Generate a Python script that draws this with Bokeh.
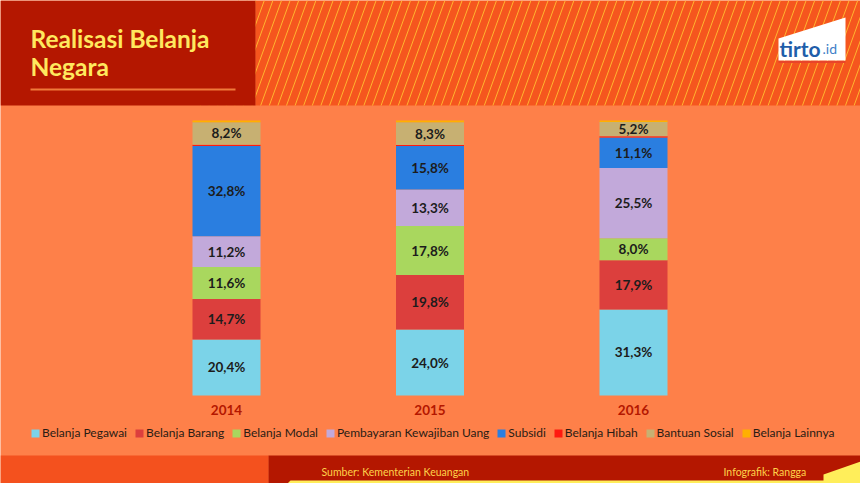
import numpy as np
from bokeh.plotting import figure
from bokeh.models import Range1d, Legend, LegendItem, ColumnDataSource
from bokeh.core.properties import value
from bokeh.embed import file_html
from bokeh.resources import INLINE

# ---------------- data ----------------
years = [2014, 2015, 2016]
year_labels = ["2014", "2015", "2016"]
categories = ["Belanja Pegawai", "Belanja Barang", "Belanja Modal",
              "Pembayaran Kewajiban Uang", "Subsidi", "Belanja Hibah",
              "Bantuan Sosial", "Belanja Lainnya"]
pegawai = [20.4, 24.0, 31.3]
barang = [14.7, 19.8, 17.9]
modal = [11.6, 17.8, 8.0]
pembayaran = [11.2, 13.3, 25.5]
subsidi = [32.8, 15.8, 11.1]
hibah = [0.5, 0.4, 0.5]
bantuan = [8.2, 8.3, 5.2]
lainnya = [0.6, 0.6, 0.5]
labelled = [True, True, True, True, True, False, True, False]
colors = ["#7BD3E8", "#DC3F3D", "#A9D75E", "#C2A9DA", "#2A7EE0",
          "#FF1A10", "#C7B072", "#FFB000"]
title_lines = ["Realisasi Belanja", "Negara"]
source_text = "Sumber: Kementerian Keuangan"
credit_text = "Infografik: Rangga"

series = [pegawai, barang, modal, pembayaran, subsidi, hibah, bantuan, lainnya]

W, H = 860, 483
BG = "#FE8049"
DARK_RED = "#B41700"
FONT = "Lato"

p = figure(width=W, height=H, output_backend="svg", toolbar_location=None,
           x_range=Range1d(0, W), y_range=Range1d(H, 0),
           x_axis_location=None, y_axis_location=None, min_border=0,
           background_fill_color=BG, border_fill_color=BG, outline_line_color=None)
p.grid.visible = False

# bar scales: 2014 centred at 226px, 2016 at 633px; 0% at 395px, 100% at 120px
px_per_year = (633 - 226) / 2.0
yr_start = years[0] - 226 / px_per_year
p.extra_x_ranges = {"yr": Range1d(yr_start, yr_start + W / px_per_year)}
px_per_pct = (395 - 120) / 100.0
p.extra_y_ranges = {"pct": Range1d(-(H - 395) / px_per_pct, 100 + 120 / px_per_pct)}

# ---------------- header ----------------
stripe_x = np.arange(200, 920, 8.6)
p.quad(left=255, right=W, top=0, bottom=105, fill_color="#F5561E", line_color=None)
p.segment(x0=stripe_x, y0=105, x1=stripe_x + 38, y1=0, line_color="#FFB530", line_width=1.0)
p.quad(left=0, right=255, top=0, bottom=105, fill_color=DARK_RED, line_color=None)
p.text(x=[30, 30], y=[38, 65.5], text=title_lines, text_font=value(FONT),
       text_font_style="bold", text_font_size="24.5px", text_color="#FFE85E",
       text_baseline="middle", text_align="left")
p.segment(x0=[30], y0=[89], x1=[235], y1=[89], line_color="#F07A3A", line_width=2)

# logo
p.patch(x=[778, 845, 845, 778], y=[38, 17, 60, 60], fill_color="white", line_color=None)
p.segment(x0=[778], y0=[61.5], x1=[845], y1=[61.5], line_color="#E8452A", line_width=2)
p.text(x=[779], y=[48], text=["tirto"], text_font=value(FONT), text_font_style="bold",
       text_font_size="21px", text_color="#1E5EAA", text_baseline="middle")
p.text(x=[822], y=[48], text=[".id"], text_font=value(FONT),
       text_font_size="14px", text_color="#3F7FC8", text_baseline="middle")

# ---------------- bars ----------------
data = {"year": years}
for c, s in zip(categories, series):
    data[c] = s
src = ColumnDataSource(data)
renderers = p.vbar_stack(categories, x="year", width=68 / px_per_year, source=src,
                         color=colors, line_color=None,
                         x_range_name="yr", y_range_name="pct")

lx, ly, lt = [], [], []
for i, yv in enumerate(years):
    base = 0.0
    for s, show in zip(series, labelled):
        v = s[i]
        if show:
            lx.append(yv)
            ly.append(base + v / 2)
            lt.append(f"{v:.1f}".replace(".", ",") + "%")
        base += v
p.text(x=lx, y=ly, text=lt, text_font=value(FONT), text_font_style="bold",
       text_font_size="13.5px", text_color="#1C1C1C", text_align="center",
       text_baseline="middle", x_range_name="yr", y_range_name="pct")

p.text(x=years, y=[409] * 3, text=year_labels, text_font=value(FONT),
       text_font_style="bold", text_font_size="13.5px", text_color=DARK_RED,
       text_align="center", text_baseline="middle", x_range_name="yr")

# ---------------- legend ----------------
legend = Legend(items=[LegendItem(label=c, renderers=[r]) for c, r in zip(categories, renderers)],
                orientation="horizontal", location=(30, H - 440),
                padding=0, margin=0, spacing=7, label_standoff=2,
                glyph_width=10, glyph_height=10, label_height=14,
                label_text_font=FONT, label_text_font_size="12px",
                label_text_color="#2A1C14", border_line_alpha=0,
                background_fill_alpha=0)
p.add_layout(legend, "center")

# ---------------- footer ----------------
p.quad(left=0, right=268, top=455, bottom=H, fill_color="#F4511E", line_color=None)
p.quad(left=268, right=W, top=455, bottom=H, fill_color=DARK_RED, line_color=None)
p.patch(x=[290, W, W, 287], y=[480, 480, H, H], fill_color="#FFEE5A", line_color=None)
p.patch(x=[823, W, W, 823], y=[474, 461, H, H], fill_color="#FFEE5A", line_color=None)
p.text(x=[321], y=[471], text=[source_text], text_font=value(FONT),
       text_font_size="10.5px", text_color="#FFD24A", text_baseline="middle")
p.text(x=[723], y=[471], text=[credit_text], text_font=value(FONT),
       text_font_size="10.5px", text_color="#FFD24A", text_baseline="middle")

open("out.html", "w").write(file_html(p, INLINE))
